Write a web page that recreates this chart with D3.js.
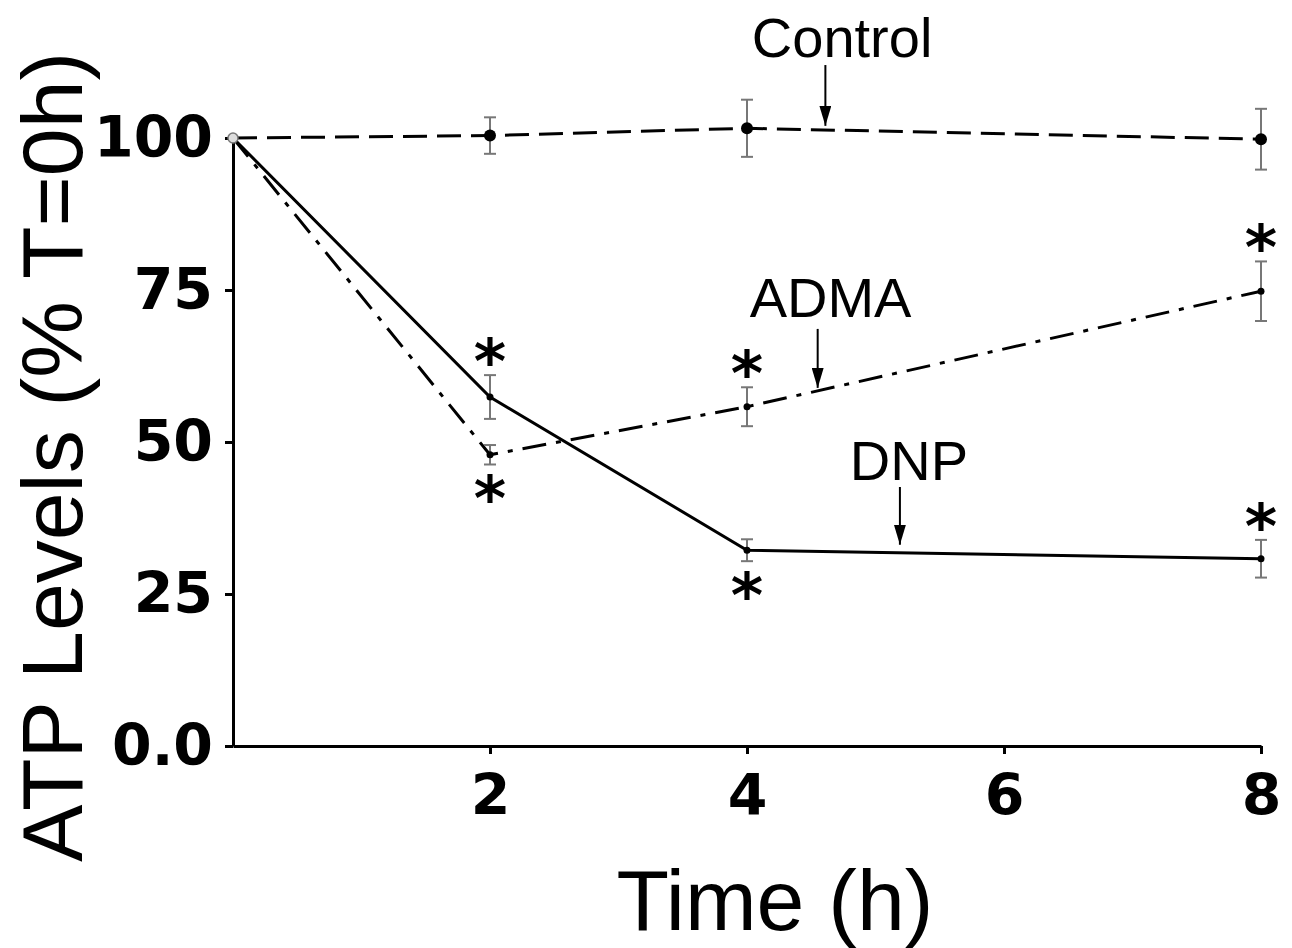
<!DOCTYPE html>
<meta charset="utf-8">
<style>
	body {
		margin: 0;
		background: #fff;
	}

	.axis path,
	.axis line {
		fill: none;
		stroke: #000;
		stroke-width: 3px;
	}

	.axis text {
		font: bold 57px "DejaVu Sans", sans-serif;
		fill: #000;
	}

	.title {
		font: 86px "Liberation Sans", Arial, sans-serif;
	}

	.note {
		font: 56px "Liberation Sans", Arial, sans-serif;
	}

	.star {
		font: bold 62px "DejaVu Sans", sans-serif;
		text-anchor: middle;
	}
</style>

<body>
	<script src="https://d3js.org/d3.v7.min.js"></script>
	<script>
		// data
		var times = [0, 2, 4, 8];
		var controlMean = [100, 100.4, 101.6, 99.8];
		var controlErr = [0, 3, 4.7, 5];
		var admaMean = [100, 47.9, 55.8, 74.8];
		var admaErr = [0, 1.6, 3.2, 4.9];
		var dnpMean = [100, 57.4, 32.2, 30.8];
		var dnpErr = [0, 3.6, 1.8, 3.1];

		var xTicks = [2, 4, 6, 8];
		var yTicks = [0, 25, 50, 75, 100];

		// significance marks: series, time index, above/below
		var stars = [
			["dnp", 1, "up"], ["adma", 1, "down"],
			["adma", 2, "up"], ["dnp", 2, "down"],
			["adma", 3, "up"], ["dnp", 3, "up"]
		];

		// label annotations (time, value units)
		var labels = ["Control", "ADMA", "DNP"];
		var labelAt = [[4.74, 113.3], [4.65, 70.6], [5.26, 43.75]];
		var arrowT = [4.61, 4.55, 5.19];
		var arrowFrom = [112, 68.6, 42.6];
		var arrowTo = [102, 58.9, 33.1];

		var width = 1292,
			height = 948;

		var x = d3.scaleLinear().domain([0, 8]).range([233, 1261]);
		var y = d3.scaleLinear().domain([0, 100]).range([746, 138]);

		var svg = d3.select("body").append("svg")
			.attr("width", width)
			.attr("height", height);

		svg.append("defs").append("marker")
			.attr("id", "head")
			.attr("viewBox", "0 0 20 12")
			.attr("refX", 20)
			.attr("refY", 6)
			.attr("markerWidth", 20)
			.attr("markerHeight", 12)
			.attr("markerUnits", "userSpaceOnUse")
			.attr("orient", "auto")
			.append("path")
			.attr("d", "M0,0L20,6L0,12Z")
			.attr("fill", "#000");

		// axes
		var xAxis = d3.axisBottom(x).tickValues(xTicks).tickSize(8).tickSizeOuter(0);
		var yAxis = d3.axisLeft(y).tickValues(yTicks).tickSize(8).tickSizeOuter(0).tickPadding(12)
			.tickFormat(function(d) { return d === 0 ? "0.0" : d; });

		svg.append("g")
			.attr("class", "x axis")
			.attr("transform", "translate(0," + y(0) + ")")
			.call(xAxis)
			.selectAll("text")
			.attr("dy", 0)
			.attr("y", 69);

		svg.append("g")
			.attr("class", "y axis")
			.attr("transform", "translate(" + x(0) + ",0)")
			.call(yAxis);

		svg.append("text")
			.attr("class", "title")
			.attr("x", (x(0) + x(8)) / 2 + 28)
			.attr("y", 930)
			.attr("text-anchor", "middle")
			.text("Time (h)");

		svg.append("text")
			.attr("class", "title")
			.attr("transform", "translate(82,457) rotate(-90)")
			.attr("text-anchor", "middle")
			.text("ATP Levels (% T=0h)");

		var series = [
			{ key: "control", mean: controlMean, err: controlErr, dash: "24,10", r: 6 },
			{ key: "adma", mean: admaMean, err: admaErr, dash: "24,10,5,10", r: 3.5 },
			{ key: "dnp", mean: dnpMean, err: dnpErr, dash: null, r: 3.5 }
		];
		var byKey = {};
		series.forEach(function(s) { byKey[s.key] = s; });

		var line = d3.line()
			.x(function(d) { return x(d[0]); })
			.y(function(d) { return y(d[1]); });

		series.forEach(function(s) {
			var pts = times.map(function(t, i) { return [t, s.mean[i], s.err[i]]; });

			svg.append("path")
				.attr("d", line(pts))
				.attr("fill", "none")
				.attr("stroke", "#000")
				.attr("stroke-width", 3)
				.attr("stroke-dasharray", s.dash);

			var bars = svg.append("g")
				.attr("stroke", "#777")
				.attr("stroke-width", 2);
			var withErr = pts.filter(function(d) { return d[2] > 0; });
			bars.selectAll(".v").data(withErr).enter().append("line")
				.attr("x1", function(d) { return x(d[0]); })
				.attr("x2", function(d) { return x(d[0]); })
				.attr("y1", function(d) { return y(d[1] + d[2]); })
				.attr("y2", function(d) { return y(d[1] - d[2]); });
			[1, -1].forEach(function(sign) {
				bars.selectAll(".c").data(withErr).enter().append("line")
					.attr("x1", function(d) { return x(d[0]) - 6; })
					.attr("x2", function(d) { return x(d[0]) + 6; })
					.attr("y1", function(d) { return y(d[1] + sign * d[2]); })
					.attr("y2", function(d) { return y(d[1] + sign * d[2]); });
			});

			svg.selectAll(".dot-" + s.key)
				.data(pts.slice(1))
				.enter().append("circle")
				.attr("cx", function(d) { return x(d[0]); })
				.attr("cy", function(d) { return y(d[1]); })
				.attr("r", s.r)
				.attr("fill", "#000");
		});

		// starting point
		svg.append("circle")
			.attr("cx", x(times[0]))
			.attr("cy", y(controlMean[0]))
			.attr("r", 5)
			.attr("fill", "#ddd")
			.attr("stroke", "#777")
			.attr("stroke-width", 1.5);

		svg.selectAll(".star")
			.data(stars)
			.enter().append("text")
			.attr("class", "star")
			.attr("x", function(d) { return x(times[d[1]]); })
			.attr("y", function(d) {
				var s = byKey[d[0]], i = d[1];
				var c = d[2] === "up" ? y(s.mean[i] + s.err[i]) - 21 : y(s.mean[i] - s.err[i]) + 27;
				return c + 29;
			})
			.text("*");

		labels.forEach(function(name, i) {
			svg.append("text")
				.attr("class", "note")
				.attr("x", x(labelAt[i][0]))
				.attr("y", y(labelAt[i][1]))
				.attr("text-anchor", "middle")
				.text(name);

			svg.append("line")
				.attr("x1", x(arrowT[i]))
				.attr("x2", x(arrowT[i]))
				.attr("y1", y(arrowFrom[i]))
				.attr("y2", y(arrowTo[i]))
				.attr("stroke", "#000")
				.attr("stroke-width", 2)
				.attr("marker-end", "url(#head)");
		});
	</script>
</body>
